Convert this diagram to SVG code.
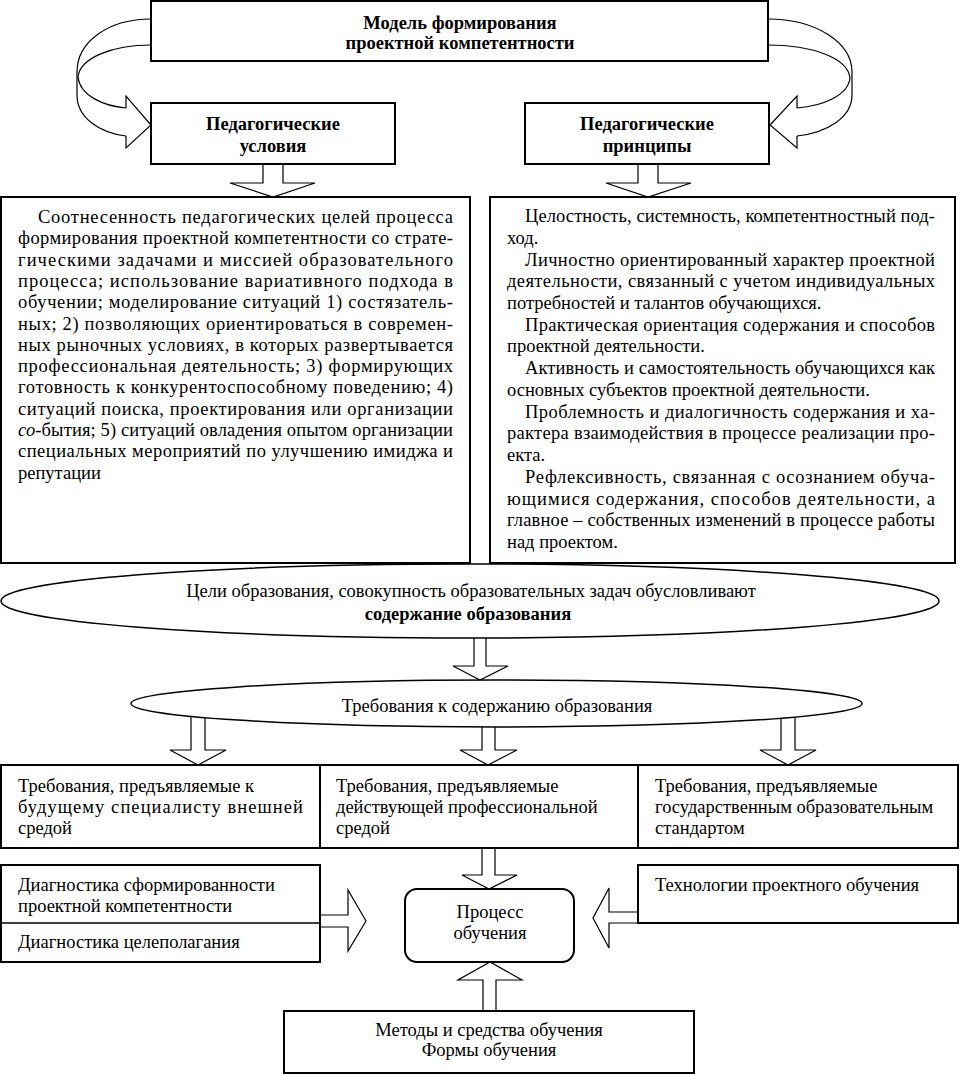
<svg xmlns="http://www.w3.org/2000/svg" width="959" height="1074" viewBox="0 0 959 1074">
<style>
.t{font-family:"Liberation Serif","Times New Roman",serif;font-size:18.5px;fill:#000}
.b{font-weight:bold}
.c{text-anchor:middle}
.box{fill:#fff;stroke:#000;stroke-width:2}
.el{fill:#fff;stroke:#000;stroke-width:1.5}
.arr{fill:#fff;stroke:#000;stroke-width:1.2;stroke-linejoin:miter}
.crv{fill:none;stroke:#000;stroke-width:1.2}
.div{stroke:#000;stroke-width:1.5}
</style>
<rect width="959" height="1074" fill="#fff"/>
<g id="connectors">
  <path class="crv" d="M151,19 C108,19 77,42 77,72 L77,95 C77,118 100,133 126,136"/>
  <path class="crv" d="M151,45 C112,45 80,58 78,77 C80,96 104,106 126,108"/>
  <polyline class="crv" points="126,108 126,96 151,125 126,148 126,136"/>
  <path class="crv" d="M768,19 C815,19 852,42 852,72 L852,95 C852,118 826,133 797,136"/>
  <path class="crv" d="M768,45 C812,45 848,58 850,78 C848,96 822,106 797,108"/>
  <polyline class="crv" points="797,108 797,96 770,125 797,148 797,136"/>
  <polygon class="arr" points="263,160 263,183 230,183 273,197 315,183 283,183 283,160"/>
  <polygon class="arr" points="638,160 638,183 606,183 648,197 691,183 658,183 658,160"/>
  <polygon class="arr" points="474,630 474,666 453,666 480,680 508,666 486,666 486,630"/>
  <polygon class="arr" points="191,710 191,750 170,750 198,765 226,750 205,750 205,710"/>
  <polygon class="arr" points="482,715 482,750 460,750 488,765 517,750 495,750 495,715"/>
  <polygon class="arr" points="781,710 781,750 760,750 788,765 816,750 795,750 795,710"/>
  <polygon class="arr" points="482,845 482,875 462,875 489,889 517,875 495,875 495,845"/>
  <polygon class="arr" points="315,915 348,915 348,890 366,921 348,951 348,927 315,927"/>
  <polygon class="arr" points="643,912 609,912 609,888 593,918 609,948 609,923 643,923"/>
  <polygon class="arr" points="483,1015 483,980 458,980 490,962 522,980 496,980 496,1015"/>
</g>
<g id="model">
  <rect class="box" x="151" y="1" width="617" height="60"/>
  <text class="t b c" x="460" y="28.5">Модель формирования</text>
  <text class="t b c" x="460" y="48.5">проектной компетентности</text>
</g>
<g id="ped-conditions">
  <rect class="box" x="151" y="103" width="244" height="61"/>
  <text class="t b c" x="273" y="130">Педагогические</text>
  <text class="t b c" x="273" y="152">условия</text>
</g>
<g id="ped-principles">
  <rect class="box" x="525" y="103" width="244" height="61"/>
  <text class="t b c" x="647" y="130">Педагогические</text>
  <text class="t b c" x="647" y="152">принципы</text>
</g>
<g id="conditions-text">
  <rect class="box" x="1" y="197" width="469" height="366"/>
  <text class="t" x="38" y="223" textLength="415" lengthAdjust="spacing">Соотнесенность педагогических целей процесса</text>
  <text class="t" x="18" y="244.3" textLength="435" lengthAdjust="spacing">формирования проектной компетентности со страте-</text>
  <text class="t" x="18" y="265.6" textLength="435" lengthAdjust="spacing">гическими задачами и миссией образовательного</text>
  <text class="t" x="18" y="286.9" textLength="435" lengthAdjust="spacing">процесса; использование вариативного подхода в</text>
  <text class="t" x="18" y="308.2" textLength="435" lengthAdjust="spacing">обучении; моделирование ситуаций 1) состязатель-</text>
  <text class="t" x="18" y="329.5" textLength="435" lengthAdjust="spacing">ных; 2) позволяющих ориентироваться в современ-</text>
  <text class="t" x="18" y="350.8" textLength="435" lengthAdjust="spacing">ных рыночных условиях, в которых развертывается</text>
  <text class="t" x="18" y="372.1" textLength="435" lengthAdjust="spacing">профессиональная деятельность; 3) формирующих</text>
  <text class="t" x="18" y="393.4" textLength="435" lengthAdjust="spacing">готовность к конкурентоспособному поведению; 4)</text>
  <text class="t" x="18" y="414.7" textLength="435" lengthAdjust="spacing">ситуаций поиска, проектирования или организации</text>
  <text class="t" x="18" y="436" textLength="435" lengthAdjust="spacing"><tspan font-style="italic">со</tspan>-бытия; 5) ситуаций овладения опытом организации</text>
  <text class="t" x="18" y="457.3" textLength="435" lengthAdjust="spacing">специальных мероприятий по улучшению имиджа и</text>
  <text class="t" x="18" y="478.6">репутации</text>
</g>
<g id="principles-text">
  <rect class="box" x="490" y="197" width="465" height="366"/>
  <text class="t" x="525" y="222" textLength="410" lengthAdjust="spacing">Целостность, системность, компетентностный под-</text>
  <text class="t" x="507" y="243.7">ход.</text>
  <text class="t" x="525" y="265.5" textLength="410" lengthAdjust="spacing">Личностно ориентированный характер проектной</text>
  <text class="t" x="507" y="287.2" textLength="428" lengthAdjust="spacing">деятельности, связанный с учетом индивидуальных</text>
  <text class="t" x="507" y="308.9">потребностей и талантов обучающихся.</text>
  <text class="t" x="525" y="330.7" textLength="410" lengthAdjust="spacing">Практическая ориентация содержания и способов</text>
  <text class="t" x="507" y="352.4">проектной деятельности.</text>
  <text class="t" x="525" y="374.1" textLength="410" lengthAdjust="spacing">Активность и самостоятельность обучающихся как</text>
  <text class="t" x="507" y="395.8">основных субъектов проектной деятельности.</text>
  <text class="t" x="525" y="417.6" textLength="410" lengthAdjust="spacing">Проблемность и диалогичность содержания и ха-</text>
  <text class="t" x="507" y="439.3" textLength="428" lengthAdjust="spacing">рактера взаимодействия в процессе реализации про-</text>
  <text class="t" x="507" y="461">екта.</text>
  <text class="t" x="525" y="482.8" textLength="410" lengthAdjust="spacing">Рефлексивность, связанная с осознанием обуча-</text>
  <text class="t" x="507" y="504.5" textLength="428" lengthAdjust="spacing">ющимися содержания, способов деятельности, а</text>
  <text class="t" x="507" y="526.2" textLength="428" lengthAdjust="spacing">главное – собственных изменений в процессе работы</text>
  <text class="t" x="507" y="548">над проектом.</text>
</g>
<g id="goals-ellipse">
  <ellipse class="el" cx="470" cy="601" rx="469" ry="37"/>
  <text class="t c" x="471" y="597">Цели образования, совокупность образовательных задач обусловливают</text>
  <text class="t b c" x="468" y="620">содержание образования</text>
</g>
<g id="requirements-ellipse">
  <ellipse class="el" cx="496.5" cy="703.5" rx="365.5" ry="23.5"/>
  <text class="t c" x="497" y="712">Требования к содержанию образования</text>
</g>
<g id="req-external">
  <rect class="box" x="1" y="765" width="319" height="83"/>
  <text class="t" x="18" y="792">Требования, предъявляемые к</text>
  <text class="t" x="18" y="813" textLength="285" lengthAdjust="spacing">будущему специалисту внешней</text>
  <text class="t" x="18" y="834">средой</text>
</g>
<g id="req-professional">
  <rect class="box" x="320" y="765" width="318" height="83"/>
  <text class="t" x="336" y="792">Требования, предъявляемые</text>
  <text class="t" x="336" y="813">действующей профессиональной</text>
  <text class="t" x="336" y="834">средой</text>
</g>
<g id="req-standard">
  <rect class="box" x="638" y="765" width="320" height="83"/>
  <text class="t" x="655" y="792">Требования, предъявляемые</text>
  <text class="t" x="655" y="813">государственным образовательным</text>
  <text class="t" x="655" y="834">стандартом</text>
</g>
<g id="diagnostics">
  <rect class="box" x="1" y="865" width="319" height="97"/>
  <line class="div" x1="1" y1="923" x2="320" y2="923"/>
  <text class="t" x="18" y="891">Диагностика сформированности</text>
  <text class="t" x="18" y="912">проектной компетентности</text>
  <text class="t" x="18" y="948">Диагностика целеполагания</text>
</g>
<g id="process">
  <rect class="box" x="405" y="889" width="169" height="73" rx="12" ry="12"/>
  <text class="t c" x="490" y="918">Процесс</text>
  <text class="t c" x="490" y="939">обучения</text>
</g>
<g id="technologies">
  <rect class="box" x="638" y="865" width="320" height="58"/>
  <text class="t" x="655" y="891">Технологии проектного обучения</text>
</g>
<g id="methods">
  <rect class="box" x="284" y="1011" width="410" height="62"/>
  <text class="t c" x="489" y="1036">Методы и средства обучения</text>
  <text class="t c" x="489" y="1056">Формы обучения</text>
</g>
</svg>
